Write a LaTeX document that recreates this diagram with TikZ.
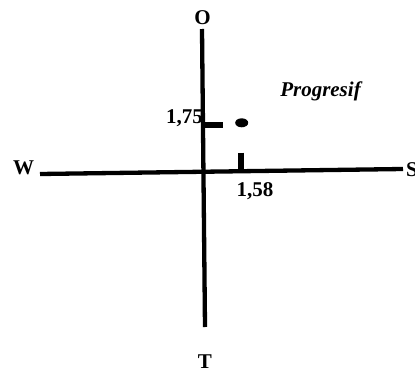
\documentclass[tikz,border=0pt]{standalone}
\usepackage{fontspec}
\setmainfont{Liberation Serif}
\usetikzlibrary{shapes.geometric}
\begin{document}
\begin{tikzpicture}[x=1pt,y=-1pt,
  lbl/.style={font=\fontsize{21}{24}\selectfont\bfseries, inner sep=0pt},
  axis/.style={line width=4.3pt},
  tick/.style={line width=6.5pt}]
\useasboundingbox (0,0) rectangle (415,372);
% axes
\coordinate (wl) at (40,174);
\coordinate (sr) at (403,169);
\coordinate (ot) at (202,29);
\coordinate (tb) at (205,327);
\draw[axis] (wl) -- (sr);
\draw[axis] (ot) -- (tb);
% ticks
\coordinate (t1a) at (204,125);
\coordinate (t1b) at (222.7,125);
\draw[tick] (t1a) -- (t1b);
\coordinate (t2a) at (241,152.5);
\coordinate (t2b) at (241,170);
\draw[tick] (t2a) -- (t2b);
% point
\node[fill, ellipse, minimum width=13pt, minimum height=9pt, inner sep=0pt] (p) at (241.7,122.8) {};
% labels
\node[lbl, anchor=base] (O) at (202.5,24) {O};
\node[lbl, anchor=base] (T) at (205,368) {T};
\node[lbl, anchor=base] (W) at (23.5,174) {W};
\node[lbl, anchor=base west] (S) at (406,176) {S};
\node[lbl, anchor=base east] (l175) at (203,123.5) {1,75};
\node[lbl, anchor=base] (l158) at (255,196) {1,58};
\node[lbl, anchor=base, font=\fontsize{21}{24}\selectfont\bfseries\itshape] (prog) at (320.5,96.7) {Progresif};
\end{tikzpicture}
\end{document}
